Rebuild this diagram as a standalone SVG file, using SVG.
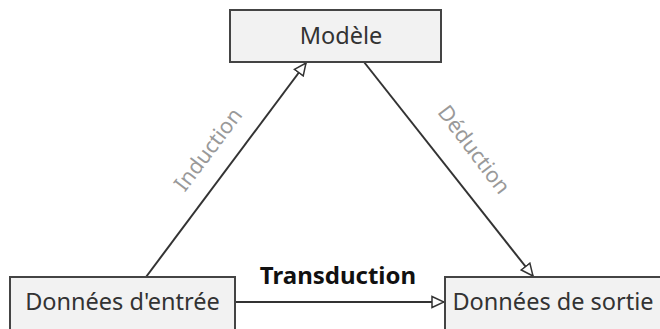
<svg xmlns="http://www.w3.org/2000/svg" width="660" height="329" viewBox="0 0 660 329">
<defs>
<style>
.box{fill:#f2f2f2;stroke:#444;stroke-width:2}
.lbl{font-family:"Noto Sans","Open Sans",sans-serif;font-size:23.5px;fill:#333;text-anchor:middle}
.edge{stroke:#333;stroke-width:2;fill:none}
.elbl{font-family:"Noto Sans","Open Sans",sans-serif;font-size:21.5px;fill:#999;text-anchor:middle}
.tlbl{font-family:"Noto Sans","Open Sans",sans-serif;font-size:24px;font-weight:bold;fill:#111;text-anchor:middle}
</style>
<marker id="arr" viewBox="0 0 14 14" refX="13" refY="7" markerWidth="14" markerHeight="14" markerUnits="userSpaceOnUse" orient="auto">
<path d="M1,1.5 L13,7 L1,12.5 Z" fill="#fff" stroke="#333" stroke-width="1.5"/>
</marker>
</defs>
<g id="connectors">
<line class="edge" x1="146" y1="277" x2="306" y2="63" marker-end="url(#arr)"/>
<line class="edge" x1="364" y1="62" x2="533" y2="276" marker-end="url(#arr)"/>
<line class="edge" x1="236" y1="302" x2="444" y2="302" marker-end="url(#arr)"/>
<text class="elbl" transform="translate(214,154) rotate(-53)">Induction</text>
<text class="elbl" transform="translate(468,154) rotate(53)">Déduction</text>
<text class="tlbl" x="338" y="284">Transduction</text>
</g>
<g id="modele">
<rect class="box" x="230" y="10" width="211" height="52"/>
<text class="lbl" x="341" y="44">Modèle</text>
</g>
<g id="entree">
<rect class="box" x="10" y="277" width="225" height="60"/>
<text class="lbl" x="122.5" y="310">Données d'entrée</text>
</g>
<g id="sortie">
<rect class="box" x="445" y="277" width="225" height="60"/>
<text class="lbl" x="553" y="310">Données de sortie</text>
</g>
</svg>
